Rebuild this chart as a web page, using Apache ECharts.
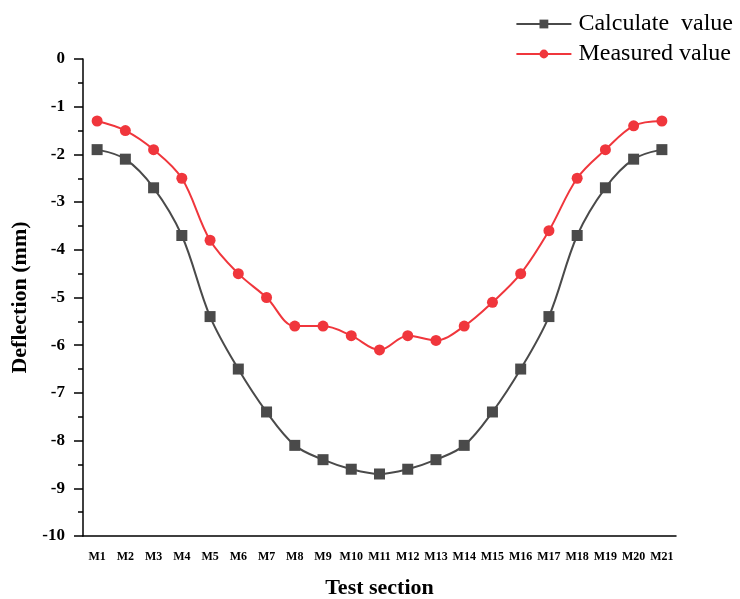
<!DOCTYPE html>
<html><head><meta charset="utf-8">
<script src="https://cdn.jsdelivr.net/npm/echarts@6/dist/echarts.min.js"></script>
<style>html,body{margin:0;padding:0;background:#fff}#c{width:740px;height:599px}</style>
</head><body><div id="c"></div>
<script>
const categories = ['M1','M2','M3','M4','M5','M6','M7','M8','M9','M10','M11','M12','M13','M14','M15','M16','M17','M18','M19','M20','M21'];
const calculateValues = [-1.9,-2.1,-2.7,-3.7,-5.4,-6.5,-7.4,-8.1,-8.4,-8.6,-8.7,-8.6,-8.4,-8.1,-7.4,-6.5,-5.4,-3.7,-2.7,-2.1,-1.9];
const measuredValues = [-1.3,-1.5,-1.9,-2.5,-3.8,-4.5,-5.0,-5.6,-5.6,-5.8,-6.1,-5.8,-5.9,-5.6,-5.1,-4.5,-3.6,-2.5,-1.9,-1.4,-1.3];
const seriesNames = ['Calculate  value','Measured value'];
const serif = '"Liberation Serif","Times New Roman",serif';
const chart = echarts.init(document.getElementById('c'));
chart.setOption({
  animation:false,
  backgroundColor:'#fff',
  grid:{left:83,right:64,top:59,bottom:63,containLabel:false,outerBoundsMode:'none'},
  legend:{
    orient:'vertical', right:2, top:7, itemGap:6, itemWidth:55, itemHeight:11,
    textStyle:{fontFamily:serif,fontSize:24,color:'#000',padding:[0,0,0,2]},
    data:[seriesNames[0],seriesNames[1]]
  },
  xAxis:{
    type:'category', data:categories, boundaryGap:true,
    name:'Test section', nameLocation:'middle', nameGap:41,
    nameTextStyle:{fontFamily:serif,fontSize:22,fontWeight:'bold',color:'#000'},
    axisLine:{onZero:false,lineStyle:{color:'#000',width:1.5}},
    axisTick:{alignWithLabel:true,length:8,lineStyle:{color:'#000',width:1.5}},
    axisLabel:{fontFamily:serif,fontSize:12,fontWeight:'bold',color:'#000',margin:15,interval:0},
    splitLine:{show:false}
  },
  yAxis:{
    type:'value', min:-10, max:0, interval:1,
    name:'Deflection (mm)', nameLocation:'middle', nameGap:50, nameRotate:90,
    nameTextStyle:{fontFamily:serif,fontSize:22,fontWeight:'bold',color:'#000'},
    axisLine:{show:true,lineStyle:{color:'#000',width:1.5}},
    axisTick:{show:true,length:9,lineStyle:{color:'#000',width:1.5}},
    minorTick:{show:true,splitNumber:2,length:5,lineStyle:{color:'#000',width:1.5}},
    axisLabel:{fontFamily:serif,fontSize:17,fontWeight:'bold',color:'#000',margin:18},
    splitLine:{show:false}
  },
  series:[
    {name:seriesNames[0],type:'line',data:calculateValues,smooth:0.35,
     symbol:'rect',symbolSize:11,
     itemStyle:{color:'#4a4a4a'},lineStyle:{color:'#4a4a4a',width:2}},
    {name:seriesNames[1],type:'line',data:measuredValues,smooth:0.35,
     symbol:'circle',symbolSize:11,
     itemStyle:{color:'#f0363c'},lineStyle:{color:'#f0363c',width:2}}
  ]
});
</script></body></html>
